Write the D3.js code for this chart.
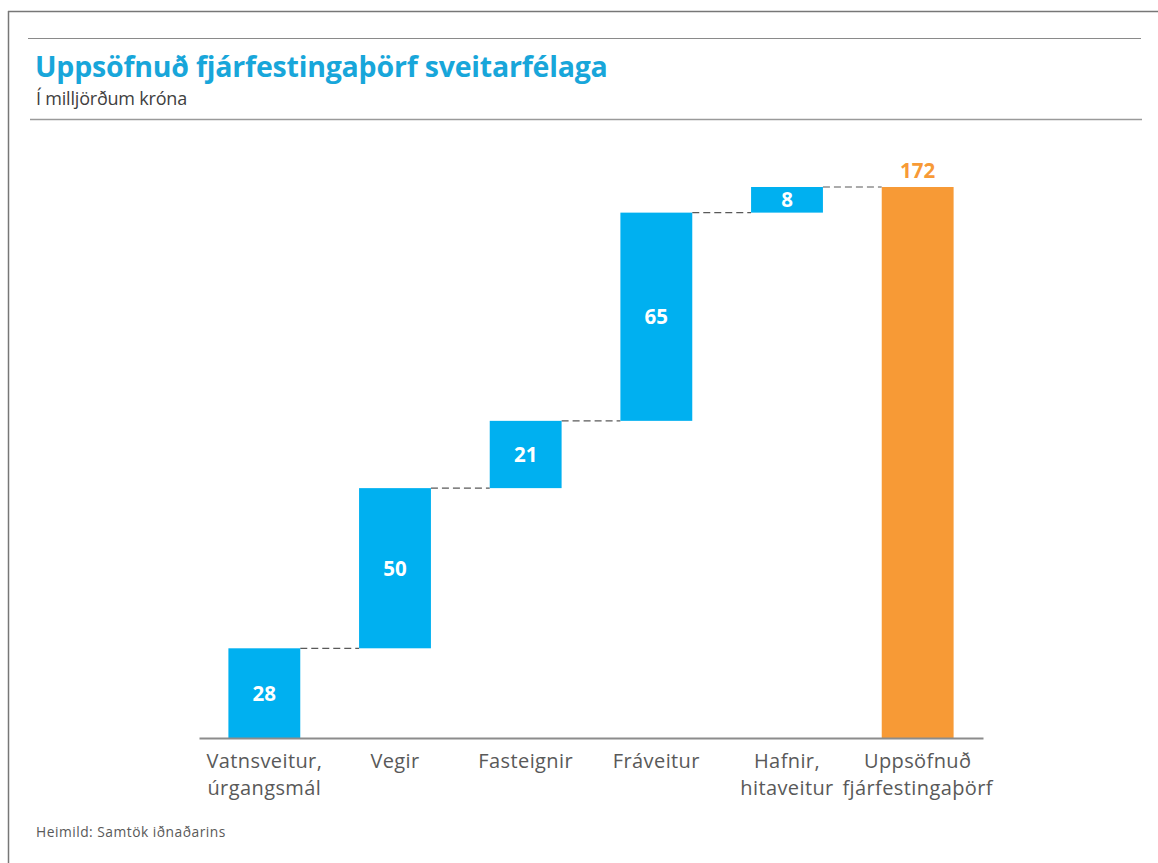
<!DOCTYPE html>
<html>
<head>
<meta charset="utf-8">
<script src="https://cdn.jsdelivr.net/npm/d3@7"></script>
<style>
body { margin: 0; background: #fff; }
svg { display: block; font-family: "Open Sans", Lato, sans-serif; }
</style>
</head>
<body>
<svg width="1158" height="863"></svg>
<script>
// data
var categories = [["Vatnsveitur,", "úrgangsmál"], ["Vegir"], ["Fasteignir"], ["Fráveitur"], ["Hafnir,", "hitaveitur"], ["Uppsöfnuð", "fjárfestingaþörf"]];
var steps = [28, 50, 21, 65, 8];
var total = 172;

var svg = d3.select("svg");
var blue = "#00b0f0", orange = "#f79a36";

// frame and title rules
svg.append("line").attr("x1", 8).attr("x2", 1158).attr("y1", 11.5).attr("y2", 11.5).attr("stroke", "#777").attr("stroke-width", 1.5);
svg.append("line").attr("x1", 8.5).attr("x2", 8.5).attr("y1", 11).attr("y2", 863).attr("stroke", "#777").attr("stroke-width", 1.5);
svg.append("line").attr("x1", 28).attr("x2", 1141).attr("y1", 38.5).attr("y2", 38.5).attr("stroke", "#8a8a8a").attr("stroke-width", 1.2);
svg.append("line").attr("x1", 30).attr("x2", 1142).attr("y1", 119.5).attr("y2", 119.5).attr("stroke", "#9a9a9a").attr("stroke-width", 1.5);

svg.append("text").attr("x", 35).attr("y", 77).attr("font-size", 28.5).attr("font-weight", "bold")
  .attr("letter-spacing", -0.2).attr("fill", "#18a6da").text("Uppsöfnuð fjárfestingaþörf sveitarfélaga");
svg.append("text").attr("x", 36).attr("y", 105).attr("font-size", 18)
  .attr("letter-spacing", -0.2).attr("fill", "#404040").text("Í milljörðum króna");
svg.append("text").attr("x", 36).attr("y", 837).attr("font-size", 13.8)
  .attr("letter-spacing", 0.5).attr("fill", "#595959").text("Heimild: Samtök iðnaðarins");

// build waterfall rows
var rows = [], run = 0;
steps.forEach(function (v, i) {
  rows.push({ i: i, start: run, end: run + v, value: v, total: false });
  run += v;
});
rows.push({ i: steps.length, start: 0, end: total, value: total, total: true });

var x = d3.scaleBand().domain(d3.range(categories.length)).range([199, 983])
  .paddingInner(0.45).paddingOuter(0.225);
var y = d3.scaleLinear().domain([0, total]).range([738, 187]);

// connectors
var links = rows.slice(0, -1).map(function (d, k) { return { a: d, b: rows[k + 1] }; });
svg.selectAll(".link").data(links).enter().append("line")
  .attr("x1", function (d) { return x(d.a.i) + x.bandwidth(); })
  .attr("x2", function (d) { return x(d.b.i); })
  .attr("y1", function (d) { return y(d.a.end); })
  .attr("y2", function (d) { return y(d.a.end); })
  .attr("stroke", "#595959").attr("stroke-width", 1.2).attr("stroke-dasharray", "7,4");

svg.selectAll(".bar").data(rows).enter().append("rect")
  .attr("x", function (d) { return x(d.i); })
  .attr("width", x.bandwidth())
  .attr("y", function (d) { return y(d.end); })
  .attr("height", function (d) { return y(d.start) - y(d.end); })
  .attr("fill", function (d) { return d.total ? orange : blue; });

// value labels
svg.selectAll(".val").data(rows).enter().append("text")
  .attr("x", function (d) { return x(d.i) + x.bandwidth() / 2; })
  .attr("y", function (d) { return d.total ? y(d.end) - 9 : (y(d.start) + y(d.end)) / 2; })
  .attr("dy", function (d) { return d.total ? 0 : "0.36em"; })
  .attr("text-anchor", "middle").attr("font-size", 20.5).attr("font-weight", "bold")
  .attr("fill", function (d) { return d.total ? orange : "#fff"; })
  .text(function (d) { return d.value; });

// x axis
var ax = svg.append("g").attr("transform", "translate(0,738)")
  .call(d3.axisBottom(x).tickSize(0).tickFormat(""));
ax.select(".domain").attr("stroke", "#8c8c8c").attr("stroke-width", 2);

svg.selectAll(".cat").data(categories).enter().append("text")
  .attr("text-anchor", "middle").attr("font-size", 20).attr("fill", "#595959")
  .attr("letter-spacing", 0.4)
  .attr("transform", function (d, i) { return "translate(" + (x(i) + x.bandwidth() / 2) + ",768)"; })
  .selectAll("tspan").data(function (d) { return d; }).enter().append("tspan")
  .attr("x", 0).attr("dy", function (d, j) { return j ? 27 : 0; })
  .text(function (d) { return d; });
</script>
</body>
</html>
